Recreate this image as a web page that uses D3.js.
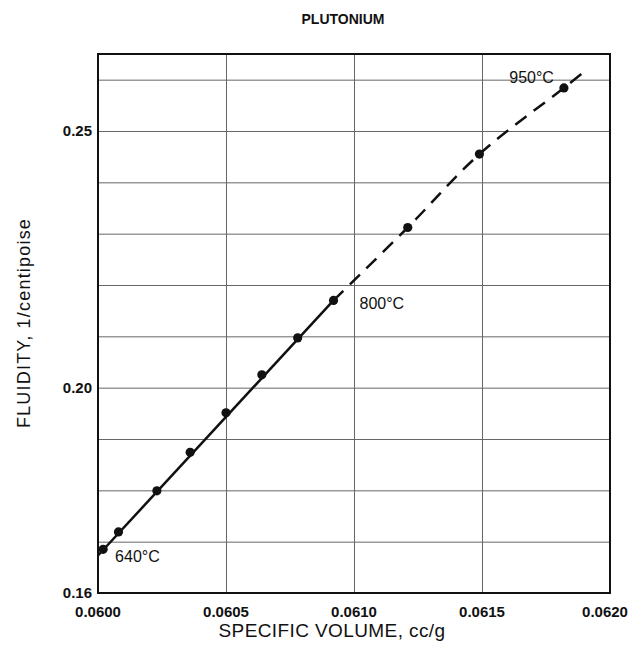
<html>
<head>
<script src="https://cdn.jsdelivr.net/npm/d3@7"></script>
<style>
  body { margin: 0; background: #fff; }
  text { font-family: "Liberation Sans", Arial, sans-serif; fill: #111; }
  .grid line { stroke: #666; stroke-width: 1; }
  .grid path { display: none; }
  .tick-lbl { font-weight: bold; font-size: 15px; }
</style>
</head>
<body>
<div id="chart"></div>
<script>
// measured points (specific volume cc/g, fluidity 1/centipoise)
var specificVolume = [0.06002, 0.06008, 0.06023, 0.06036, 0.06050, 0.06064, 0.06078, 0.06092, 0.06121, 0.06149, 0.06182];
var fluidity       = [0.1685, 0.1719, 0.1799, 0.1874, 0.1951, 0.2025, 0.2097, 0.2170, 0.2312, 0.2455, 0.2584];

// drawn curves: solid fit and dashed extrapolation
var solidX  = [0.0600, 0.06092];
var solidY  = [0.1673, 0.2170];
var dashedX = [0.06092, 0.06121, 0.06149, 0.06182, 0.06190];
var dashedY = [0.2170, 0.2312, 0.2455, 0.2584, 0.2616];

// temperature labels and the point each belongs to
var tempLabels = ["640°C", "800°C", "950°C"];
var tempIndex  = [0, 7, 10];

var xTicks = [0.0600, 0.0605, 0.0610, 0.0615, 0.0620];
var yGrid  = [0.17, 0.18, 0.19, 0.20, 0.21, 0.22, 0.23, 0.24, 0.25, 0.26];
var yLabels = [0.16, 0.20, 0.25];

var width = 634, height = 660;
var mLeft = 98, mRight = 610, mTop = 54, mBottom = 593;

var svg = d3.select("#chart").append("svg")
    .attr("width", width)
    .attr("height", height);

var x = d3.scaleLinear().domain([0.0600, 0.0620]).range([mLeft, mRight]);
var y = d3.scaleLinear().domain([0.16, 0.265]).range([mBottom, mTop]);

// vertical grid
svg.append("g")
    .attr("class", "grid")
    .attr("transform", "translate(0," + mBottom + ")")
    .call(d3.axisBottom(x).tickValues(xTicks.slice(1, -1)).tickSize(-(mBottom - mTop)).tickFormat(""));

// horizontal grid
svg.append("g")
    .attr("class", "grid")
    .attr("transform", "translate(" + mLeft + ",0)")
    .call(d3.axisLeft(y).tickValues(yGrid).tickSize(-(mRight - mLeft)).tickFormat(""));

// frame
svg.append("rect")
    .attr("x", mLeft).attr("y", mTop)
    .attr("width", mRight - mLeft).attr("height", mBottom - mTop)
    .attr("fill", "none").attr("stroke", "#111").attr("stroke-width", 2);

// tick labels
svg.selectAll(".xlbl")
    .data(xTicks)
  .enter().append("text")
    .attr("class", "tick-lbl")
    .attr("x", function(d, i) { return x(d) - (i == xTicks.length - 1 ? 5 : 0); })
    .attr("y", mBottom + 24)
    .attr("text-anchor", "middle")
    .text(function(d) { return d3.format(".4f")(d); });

svg.selectAll(".ylbl")
    .data(yLabels)
  .enter().append("text")
    .attr("class", "tick-lbl")
    .attr("x", mLeft - 6)
    .attr("y", function(d) { return y(d) + 5; })
    .attr("text-anchor", "end")
    .text(function(d) { return d3.format(".2f")(d); });

// axis titles
svg.append("text")
    .attr("x", 332).attr("y", 637)
    .attr("text-anchor", "middle")
    .style("font-size", "19px")
    .style("letter-spacing", "0.4px")
    .text("SPECIFIC VOLUME, cc/g");

svg.append("text")
    .attr("transform", "translate(30," + 323 + ") rotate(-90)")
    .attr("text-anchor", "middle")
    .style("font-size", "18px")
    .style("letter-spacing", "1.2px")
    .text("FLUIDITY, 1/centipoise");

svg.append("text")
    .attr("x", 343).attr("y", 24)
    .attr("text-anchor", "middle")
    .style("font-size", "14px")
    .style("font-weight", "bold")
    .text("PLUTONIUM");

// lines
var line = d3.line()
    .x(function(d) { return x(d[0]); })
    .y(function(d) { return y(d[1]); });

svg.append("path")
    .datum(d3.zip(solidX, solidY))
    .attr("d", line)
    .attr("fill", "none")
    .attr("stroke", "#111")
    .attr("stroke-width", 2.5);

svg.append("path")
    .datum(d3.zip(dashedX, dashedY))
    .attr("d", line.curve(d3.curveCatmullRom))
    .attr("fill", "none")
    .attr("stroke", "#111")
    .attr("stroke-width", 2.5)
    .attr("stroke-dasharray", "14,9");

// points
svg.selectAll(".pt")
    .data(d3.zip(specificVolume, fluidity))
  .enter().append("circle")
    .attr("cx", function(d) { return x(d[0]); })
    .attr("cy", function(d) { return y(d[1]); })
    .attr("r", 4.6)
    .attr("fill", "#111");

// temperature labels
var offs = [[12, 13, "start"], [26, 9, "start"], [-10, -5, "end"]];
tempLabels.forEach(function(t, i) {
    var k = tempIndex[i];
    svg.append("text")
        .attr("x", x(specificVolume[k]) + offs[i][0])
        .attr("y", y(fluidity[k]) + offs[i][1])
        .attr("text-anchor", offs[i][2])
        .style("font-size", "16px")
        .text(t);
});
</script>
</body>
</html>
